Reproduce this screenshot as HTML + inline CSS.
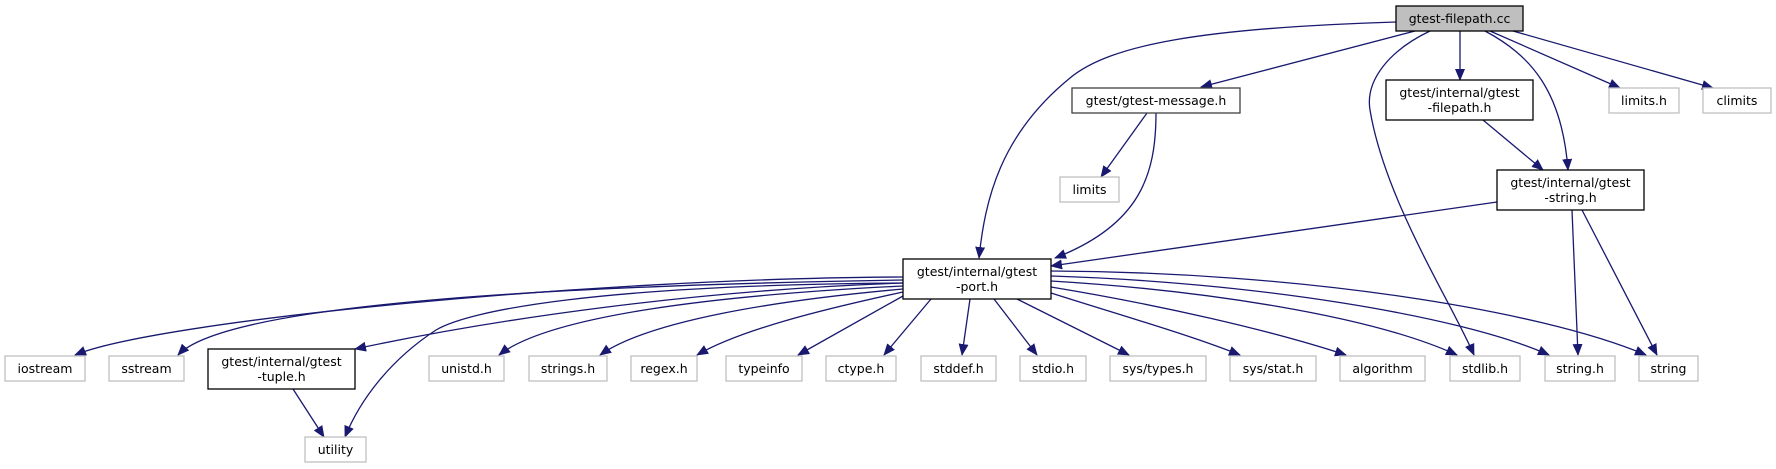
<!DOCTYPE html>
<html><head><meta charset="utf-8"><style>
html,body{margin:0;padding:0;background:#fff;width:1776px;height:469px;overflow:hidden}
text{font-family:"DejaVu Sans","Liberation Sans",sans-serif;font-size:12.5px;fill:#000}
</style></head><body>
<svg width="1776" height="469" viewBox="0 0 1776 469" xmlns="http://www.w3.org/2000/svg">
<defs>
<marker id="a" markerUnits="userSpaceOnUse" markerWidth="12" markerHeight="10" refX="11" refY="5" orient="auto">
<path d="M0,0 L12,5 L0,10 Z" fill="#191970"/>
</marker>
</defs>
<g fill="none" stroke="#191970" stroke-width="1.3" marker-end="url(#a)">
<!-- from filepath.cc -->
<path d="M1396,22 C1200,28 1110,45 1070,78 C1000,135 985,200 979,258"/>
<path d="M1415,31 L1201,87"/>
<path d="M1430,31 C1390,50 1365,80 1370,110 C1385,200 1450,300 1474,355"/>
<path d="M1460,31 L1460,80"/>
<path d="M1485,31 C1530,55 1562,90 1568,170"/>
<path d="M1490,31 L1620,88"/>
<path d="M1513,31 L1713,88"/>
<!-- mid -->
<path d="M1483,120 L1543,170"/>
<path d="M1147,113 L1101,177"/>
<path d="M1156,113 C1156,175 1140,225 1055,258"/>
<path d="M1497,202 L1051,266"/>
<path d="M1572,210 L1578,355"/>
<path d="M1582,210 L1657,355"/>
<!-- port to bottom right -->
<path d="M970,299 L962,355"/>
<path d="M994,299 L1037,355"/>
<path d="M1017,299 L1129,355"/>
<path d="M1051,293 C1120,315 1190,335 1240,355"/>
<path d="M1051,287 C1160,305 1270,330 1346,355"/>
<path d="M1051,281 C1200,290 1370,315 1457,355"/>
<path d="M1051,276 C1250,282 1460,315 1549,355"/>
<path d="M1051,271 C1300,272 1540,310 1646,355"/>
<!-- port to bottom left -->
<path d="M931,299 L884,355"/>
<path d="M903,296 L798,355"/>
<path d="M903,292 C820,310 740,330 697,355"/>
<path d="M903,289 C780,300 650,320 600,355"/>
<path d="M903,286 C720,295 550,315 499,355"/>
<path d="M903,283 C700,290 500,318 355,349"/>
<path d="M903,280 C600,285 230,300 178,355"/>
<path d="M903,277 C600,278 160,320 75,355"/>
<path d="M903,283 C600,285 470,310 436,330 C390,360 360,400 345,437"/>
<path d="M293,389 L324,437"/>
</g>
<g stroke-width="1.3">
<rect x="1396" y="6" width="127" height="25" fill="#bfbfbf" stroke="#000"/>
<rect x="1072" y="88" width="168" height="25" fill="#fff" stroke="#404040"/>
<rect x="1060" y="177" width="59" height="25" fill="#fff" stroke="#bfbfbf"/>
<rect x="1386" y="80" width="147" height="40" fill="#fff" stroke="#000"/>
<rect x="1609" y="88" width="70" height="25" fill="#fff" stroke="#bfbfbf"/>
<rect x="1703" y="88" width="68" height="25" fill="#fff" stroke="#bfbfbf"/>
<rect x="1497" y="170" width="147" height="40" fill="#fff" stroke="#000"/>
<rect x="903" y="259" width="148" height="40" fill="#fff" stroke="#000"/>
<rect x="5" y="356" width="80" height="25" fill="#fff" stroke="#bfbfbf"/>
<rect x="109" y="356" width="75" height="25" fill="#fff" stroke="#bfbfbf"/>
<rect x="208" y="349" width="147" height="40" fill="#fff" stroke="#000"/>
<rect x="305" y="437" width="61" height="25" fill="#fff" stroke="#bfbfbf"/>
<rect x="429" y="356" width="75" height="25" fill="#fff" stroke="#bfbfbf"/>
<rect x="529" y="356" width="78" height="25" fill="#fff" stroke="#bfbfbf"/>
<rect x="631" y="356" width="66" height="25" fill="#fff" stroke="#bfbfbf"/>
<rect x="726" y="356" width="76" height="25" fill="#fff" stroke="#bfbfbf"/>
<rect x="826" y="356" width="70" height="25" fill="#fff" stroke="#bfbfbf"/>
<rect x="921" y="356" width="75" height="25" fill="#fff" stroke="#bfbfbf"/>
<rect x="1020" y="356" width="66" height="25" fill="#fff" stroke="#bfbfbf"/>
<rect x="1110" y="356" width="96" height="25" fill="#fff" stroke="#bfbfbf"/>
<rect x="1230" y="356" width="86" height="25" fill="#fff" stroke="#bfbfbf"/>
<rect x="1340" y="356" width="85" height="25" fill="#fff" stroke="#bfbfbf"/>
<rect x="1450" y="356" width="70" height="25" fill="#fff" stroke="#bfbfbf"/>
<rect x="1545" y="356" width="70" height="25" fill="#fff" stroke="#bfbfbf"/>
<rect x="1639" y="356" width="59" height="25" fill="#fff" stroke="#bfbfbf"/>
</g>
<g text-anchor="middle">
<text x="1459.5" y="23">gtest-filepath.cc</text>
<text x="1156" y="105">gtest/gtest-message.h</text>
<text x="1089.5" y="194">limits</text>
<text x="1459.5" y="97">gtest/internal/gtest</text>
<text x="1459.5" y="112">-filepath.h</text>
<text x="1644" y="105">limits.h</text>
<text x="1737" y="105">climits</text>
<text x="1570.5" y="187">gtest/internal/gtest</text>
<text x="1570.5" y="202">-string.h</text>
<text x="977" y="276">gtest/internal/gtest</text>
<text x="977" y="291">-port.h</text>
<text x="45" y="373">iostream</text>
<text x="146.5" y="373">sstream</text>
<text x="281.5" y="366">gtest/internal/gtest</text>
<text x="281.5" y="381">-tuple.h</text>
<text x="335.5" y="454">utility</text>
<text x="466.5" y="373">unistd.h</text>
<text x="568" y="373">strings.h</text>
<text x="664" y="373">regex.h</text>
<text x="764" y="373">typeinfo</text>
<text x="861" y="373">ctype.h</text>
<text x="958.5" y="373">stddef.h</text>
<text x="1053" y="373">stdio.h</text>
<text x="1158" y="373">sys/types.h</text>
<text x="1273" y="373">sys/stat.h</text>
<text x="1382.5" y="373">algorithm</text>
<text x="1485" y="373">stdlib.h</text>
<text x="1580" y="373">string.h</text>
<text x="1668.5" y="373">string</text>
</g>
</svg>
</body></html>
